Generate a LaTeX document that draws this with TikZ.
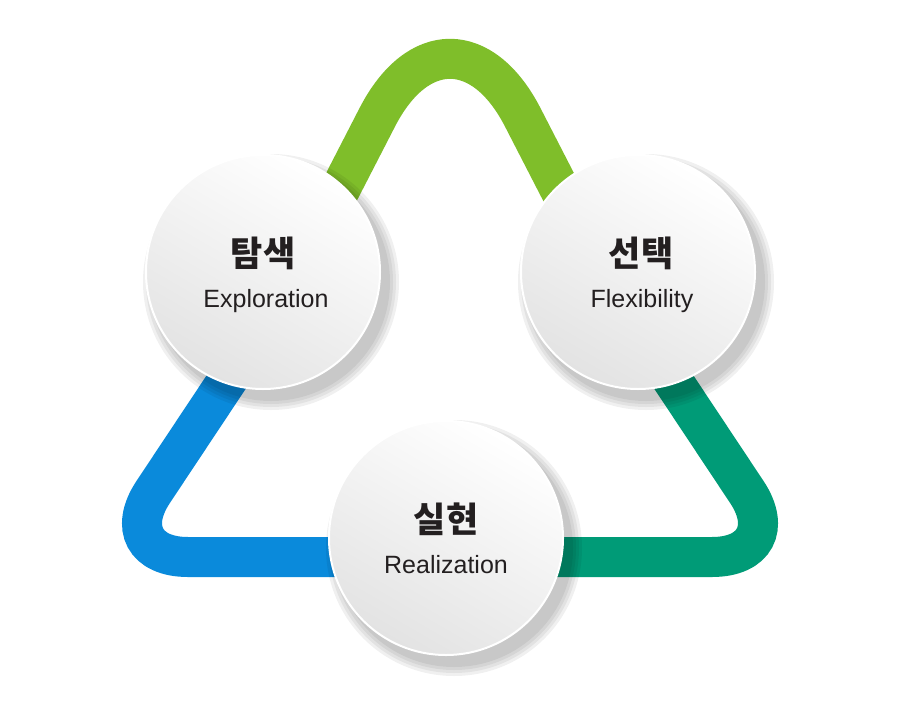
\documentclass[tikz,border=0pt]{standalone}
\usepackage{fontspec}
\setmainfont{Liberation Sans}
\newfontfamily\kr{Noto Sans CJK KR}
\definecolor{cgreen}{HTML}{7FBE2A}
\definecolor{cblue}{HTML}{0A8ADB}
\definecolor{cteal}{HTML}{009B77}
\definecolor{ink}{HTML}{231F20}
\begin{document}
\begin{tikzpicture}[x=1pt,y=-1pt,
  band/.style={line width=40pt},
  ball/.style={circle,minimum size=234pt,inner sep=0pt,draw=white,line width=2pt,
     top color=white,bottom color=gray!22,shading angle=-30,align=center},
  kt/.style={font=\kr\bfseries\fontsize{35}{40}\selectfont,text=ink},
  et/.style={font=\fontsize{25}{30}\selectfont,text=ink}]
\useasboundingbox (0,0) rectangle (897,704);
\coordinate (ml) at (292,283);
\coordinate (mr) at (608,283);
\coordinate (mb) at (450,557);
\draw[band,cgreen,rounded corners=159pt] (ml) -- (450,-24) -- (mr);
\draw[band,cblue,rounded corners=78pt] (ml) -- (110,557) -- (mb);
\draw[band,cteal,rounded corners=78pt] (mb) -- (790,557) -- (mr);
\foreach \p in {(263,272),(638,272),(446,538)}{
  \foreach \r in {128,125,122,119}{
    \fill[black,opacity=0.06] \p ++(8,10) circle (\r);
  }
}
\node[ball] (a) at (263,272) {};
\node[ball] (b) at (638,272) {};
\node[ball] (c) at (446,538) {};
\node[kt] (at) at (263,253) {탐색};
\node[et] (ae) at (266,301) {Exploration};
\node[kt] (bt) at (641,253) {선택};
\node[et] (be) at (642,301) {Flexibility};
\node[kt] (ct) at (446,519) {실현};
\node[et] (ce) at (446,565) {Realization};
\end{tikzpicture}
\end{document}
